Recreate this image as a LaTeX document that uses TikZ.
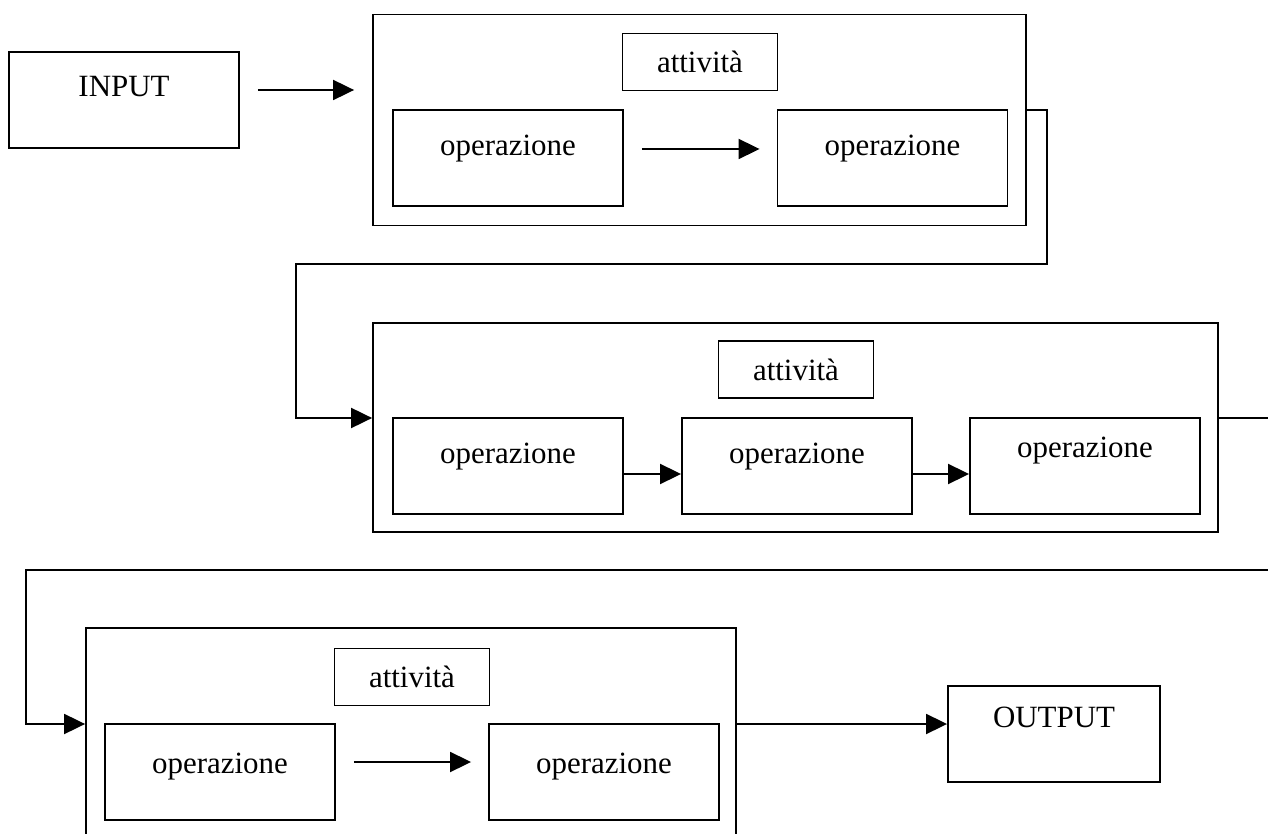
\documentclass[tikz,border=0pt]{standalone}
\usepackage{fontspec}
\setmainfont{Liberation Serif}
\usetikzlibrary{arrows.meta}

\begin{document}
\begin{tikzpicture}[x=0.02cm, y=-0.02cm, line width=1.1pt,
    >={Triangle[length=0.42cm,width=0.4cm]},
    font=\fontsize{17.6}{20}\selectfont,
    fase/.style={draw, inner sep=0pt, minimum width=#1, minimum height=4.22cm},
    titolo/.style={draw, inner sep=0pt, minimum width=3.1cm, minimum height=1.14cm},
    oper/.style={draw, inner sep=0pt, minimum width=4.6cm, minimum height=1.92cm,
        text height=0.42cm, text depth=0.52cm}]
    \useasboundingbox (0,0) rectangle (1268,834);
    \clip (0,0) rectangle (1268,834);
    % ingresso e uscita
    \node[oper, text depth=0.54cm] (input) at (124,100) {INPUT};
    \node[oper, minimum width=4.24cm, text depth=0.68cm] (output) at (1054,734) {OUTPUT};
    % prima attivita
    \node[fase=13.06cm] (fase1) at (699.5,120) {};
    \node[titolo] (titolo1) at (700,62) {attività};
    \node[oper] (op1a) at (508,158) {operazione};
    \node[oper] (op1b) at (892.5,158) {operazione};
    % seconda attivita
    \node[fase=16.9cm, minimum height=4.18cm] (fase2) at (795.5,427.5) {};
    \node[titolo] (titolo2) at (796,369.5) {attività};
    \node[oper] (op2a) at (508,466) {operazione};
    \node[oper] (op2b) at (797,466) {operazione};
    \node[oper, text depth=0.76cm] (op2c) at (1085,466) {operazione};
    % terza attivita (tagliata in basso)
    \node[fase=13cm, minimum height=4.24cm] (fase3) at (411,734) {};
    \node[titolo] (titolo3) at (412,677) {attività};
    \node[oper, text depth=0.36cm] (op3a) at (220,772) {operazione};
    \node[oper, text depth=0.36cm] (op3b) at (604,772) {operazione};
    % frecce
    \draw[->] ([shift={(18,-10)}]input.east) -- ([shift={(-18,-30)}]fase1.west);
    \draw[->] ([shift={(18,-9)}]op1a.east) -- ([shift={(-17,-9)}]op1b.west);
    \draw[->] ([shift={(0,8)}]op2a.east) -- ([shift={(0,8)}]op2b.west);
    \draw[->] ([shift={(0,8)}]op2b.east) -- ([shift={(0,8)}]op2c.west);
    \draw[->] ([shift={(18,-10)}]op3a.east) -- ([shift={(-17,-10)}]op3b.west);
    \draw[->] ([shift={(0,-10)}]fase3.east) -- ([shift={(0,-10)}]output.west);
    % collegamenti fra le attivita
    \draw[->] ([shift={(0,-10)}]fase1.east) -- ++(20,0) -- ++(0,154)
        -| ([shift={(-76,-9.5)}]fase2.west) -- ([shift={(0,-9.5)}]fase2.west);
    \draw[->] ([shift={(0,-9.5)}]fase2.east) -- ++(72,0) -- ++(0,152)
        -| ([shift={(-59,-10)}]fase3.west) -- ([shift={(0,-10)}]fase3.west);
\end{tikzpicture}
\end{document}
